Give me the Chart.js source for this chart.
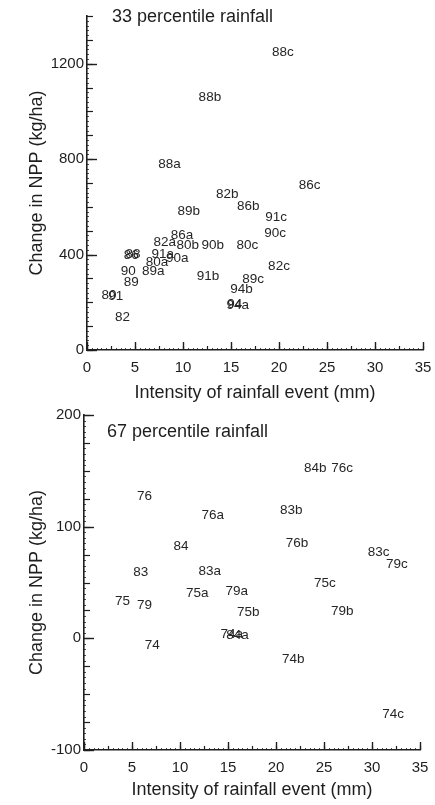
<!DOCTYPE html>
<html><head><meta charset="utf-8">
<script src="https://cdn.jsdelivr.net/npm/chart.js@4/dist/chart.umd.min.js"></script>
<style>
html,body{margin:0;padding:0;background:#fff;width:435px;height:805px;overflow:hidden}
#c1{position:absolute;left:0;top:0}
#c2{position:absolute;left:0;top:400px}
</style></head><body>
<canvas id="c1" width="435" height="404" style="width:435px;height:404px"></canvas>
<canvas id="c2" width="435" height="405" style="width:435px;height:405px"></canvas>
<script>
// ---- tick labels ----
const xTickValues = [0, 5, 10, 15, 20, 25, 30, 35];
const topYTickValues = [0, 400, 800, 1200];
const bottomYTickValues = [-100, 0, 100, 200];

// ---- 33 percentile rainfall ----
const topLabels = ['88c','88b','88a','82b','86c','86b','89b','91c','90c','80c','82c','89c','94b','94a','94','91b','86a','82a','80b','90b','91a','90a','80a','88','86','90','89','89a','80','91','82'];
const topX = [20.4,12.8,8.6,14.6,23.2,16.8,10.6,19.7,19.6,16.7,20.0,17.3,16.1,15.7,15.4,12.6,9.9,8.1,10.5,13.1,7.9,9.4,7.3,4.8,4.6,4.3,4.6,6.9,2.3,3.0,3.7];
const topY = [1248,1060,779,653,691,603,582,557,490,440,352,297,255,188,190,310,482,452,440,440,400,385,369,402,398,331,285,331,230,226,138];

// ---- 67 percentile rainfall ----
const bottomLabels = ['76','76a','84','83','83a','75a','79a','75','79','75b','74','74a','84a','84b','76c','83b','76b','83c','79c','75c','79b','74b','74c'];
const bottomX = [6.3,13.4,10.1,5.9,13.1,11.8,15.9,4.0,6.3,17.1,7.1,15.4,16.0,24.1,26.9,21.6,22.2,30.7,32.6,25.1,26.9,21.8,32.2];
const bottomY = [127,110,82,59,60,40,42,33,30,23,-6,4,3,152,152,115,85,77,66,49,24,-19,-68];

const FONT = '"Liberation Sans", Arial, Helvetica, sans-serif';
const INK = '#1e1e1e';

const axisMarks = {
  id: 'axisMarks',
  afterDraw(chart, args, o) {
    const ctx = chart.ctx, xs = chart.scales.x, ys = chart.scales.y, a = chart.chartArea;
    ctx.save();
    ctx.strokeStyle = INK;
    const drawY = (step, len, lw) => {
      const n = Math.round((ys.max - ys.min) / step);
      ctx.lineWidth = lw;
      for (let i = 0; i <= n; i++) {
        const py = Math.round(ys.getPixelForValue(ys.min + i * step)) + 0.5;
        ctx.beginPath(); ctx.moveTo(a.left, py); ctx.lineTo(a.left + len, py); ctx.stroke();
      }
    };
    const drawX = (step, len, lw) => {
      const n = Math.round((xs.max - xs.min) / step);
      ctx.lineWidth = lw;
      for (let i = 0; i <= n; i++) {
        const px = Math.round(xs.getPixelForValue(xs.min + i * step)) + 0.5;
        ctx.beginPath(); ctx.moveTo(px, a.bottom); ctx.lineTo(px, a.bottom - len); ctx.stroke();
      }
    };
    drawY(o.yFine, 2, 0.8);
    drawY(o.yMinor, 6, 1.2);
    drawY(o.yMajor, 10, 1.4);
    drawX(o.xFine, 2, 0.8);
    drawX(o.xMinor, 4, 1.2);
    drawX(o.xMajor, 8, 1.4);
    ctx.restore();
  }
};

const pointLabels = {
  id: 'pointLabels',
  afterDatasetsDraw(chart) {
    const ctx = chart.ctx;
    ctx.save();
    ctx.font = '13.5px ' + FONT;
    ctx.fillStyle = '#262626';
    ctx.textAlign = 'center';
    ctx.textBaseline = 'middle';
    chart.data.datasets.forEach((ds, di) => {
      chart.getDatasetMeta(di).data.forEach((el, i) => ctx.fillText(ds.pointLabels[i], el.x, el.y));
    });
    ctx.restore();
  }
};

const panelTitle = {
  id: 'panelTitle',
  afterDraw(chart, args, o) {
    const ctx = chart.ctx, a = chart.chartArea;
    ctx.save();
    ctx.font = '18px ' + FONT;
    ctx.fillStyle = INK;
    ctx.textAlign = 'left';
    ctx.textBaseline = 'middle';
    ctx.fillText(o.text, a.left + o.dx, a.top + o.dy);
    ctx.restore();
  }
};

function makeChart(id, labels, xs, ys, cfg) {
  return new Chart(document.getElementById(id), {
    type: 'scatter',
    data: {
      datasets: [{
        data: xs.map((x, i) => ({ x: x, y: ys[i] })),
        pointLabels: labels,
        pointRadius: 0,
        pointHoverRadius: 0,
        showLine: false
      }]
    },
    options: {
      responsive: false,
      animation: false,
      devicePixelRatio: 1,
      events: [],
      layout: { padding: cfg.padding },
      plugins: {
        legend: { display: false },
        tooltip: { enabled: false },
        axisMarks: cfg.marks,
        panelTitle: cfg.title
      },
      scales: {
        x: {
          type: 'linear', min: 0, max: 35,
          afterBuildTicks: s => { s.ticks = xTickValues.map(v => ({ value: v })); },
          afterFit: s => { s.height = cfg.xHeight; s.paddingRight = 0; s.paddingLeft = 0; },
          grid: { display: false, drawTicks: false, tickLength: 0 },
          border: { display: true, color: INK, width: 1.6 },
          ticks: { color: INK, font: { family: FONT, size: 15 }, padding: 9, maxRotation: 0, autoSkip: false,
                   callback: v => String(v) },
          title: { display: true, text: 'Intensity of rainfall event (mm)', color: INK,
                   font: { family: FONT, size: 18 }, padding: { top: 0, bottom: cfg.xTitlePad } }
        },
        y: {
          type: 'linear', min: cfg.yMin, max: cfg.yMax,
          afterBuildTicks: s => { s.ticks = cfg.yTicks.map(v => ({ value: v })); },
          afterFit: s => { s.width = cfg.yWidth; s.paddingTop = 0; s.paddingBottom = 0; },
          grid: { display: false, drawTicks: false, tickLength: 0 },
          border: { display: true, color: INK, width: 1.6 },
          ticks: { color: INK, font: { family: FONT, size: 15 }, padding: 3, autoSkip: false,
                   callback: v => String(v) },
          title: { display: true, text: 'Change in NPP (kg/ha)', color: INK,
                   font: { family: FONT, size: 18 }, padding: { top: 26, bottom: 0 } }
        }
      }
    },
    plugins: [axisMarks, pointLabels, panelTitle]
  });
}

makeChart('c1', topLabels, topX, topY, {
  padding: { left: 0, top: 16, right: 12, bottom: 0 },
  yWidth: 87, xHeight: 54, xTitlePad: 0,
  yMin: 0, yMax: 1400, yTicks: topYTickValues,
  marks: { yMajor: 400, yMinor: 100, yFine: 20, xMajor: 5, xMinor: 2.5, xFine: 0.5 },
  title: { text: '33 percentile rainfall', dx: 25, dy: 1 }
});

makeChart('c2', bottomLabels, bottomX, bottomY, {
  padding: { left: 0, top: 15, right: 15, bottom: 0 },
  yWidth: 84, xHeight: 55, xTitlePad: 4,
  yMin: -100, yMax: 200, yTicks: bottomYTickValues,
  marks: { yMajor: 100, yMinor: 25, yFine: 5, xMajor: 5, xMinor: 2.5, xFine: 0.5 },
  title: { text: '67 percentile rainfall', dx: 23, dy: 17 }
});
</script>
</body></html>
